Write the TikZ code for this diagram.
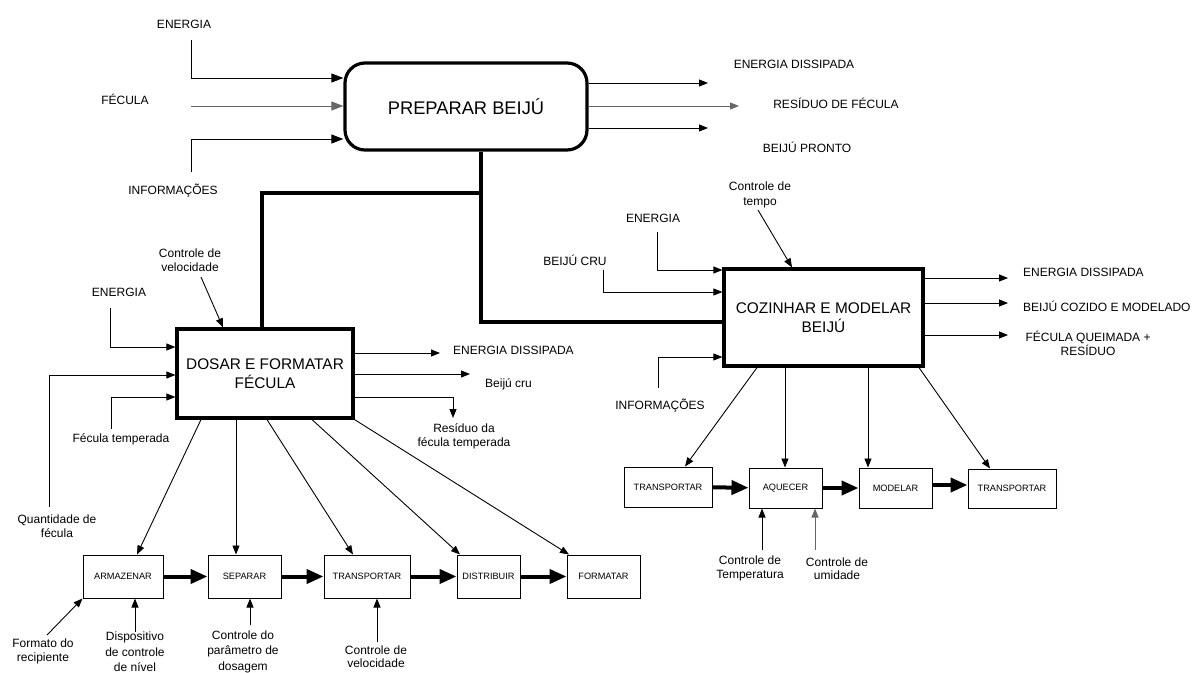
\documentclass[tikz,border=0pt]{standalone}
\usepackage{fontspec}
\setmainfont{Liberation Sans}
\usetikzlibrary{arrows.meta}

\begin{document}
\begin{tikzpicture}[x=1pt,y=-1pt,
  lbl/.style={font=\fontsize{12}{14}\selectfont, align=center, inner sep=0pt},
  boxtext/.style={font=\fontsize{15.4}{19}\selectfont, align=center, inner sep=0pt},
  mainbox/.style={draw, line width=3.2pt, boxtext},
  subbox/.style={draw, line width=1pt, inner sep=0pt, font=\fontsize{9.2}{11}\selectfont},
  arr/.style={line width=0.9pt, -{Triangle[length=9pt,width=7pt]}},
  bigarr/.style={line width=0.9pt, -{Triangle[length=12pt,width=9pt]}},
  greyline/.style={draw=black!60, fill=black!60},
  flow/.style={line width=4pt, -{Triangle[length=17pt,width=14pt]}},
  tie/.style={line width=3.5pt}
]
\useasboundingbox (0,0) rectangle (1196,672);

% ---------- top level activity ----------
\node[mainbox, rounded corners=20pt, minimum width=242pt, minimum height=87pt,
      font=\fontsize{18.3}{22}\selectfont] (prep) at (466,106.5) {PREPARAR BEIJÚ};

\node[lbl] (lpe) at (184,24) {ENERGIA};
\node[lbl] (lpf) at (125,99) {FÉCULA};
\node[lbl] (lpi) at (173,191) {INFORMAÇÕES};
\coordinate (pe) at (191,40);
\coordinate (pf) at (191,106);
\coordinate (pin) at (191,172);
\draw[bigarr] (pe) |- (prep.west |- 0,78);
\draw[bigarr, greyline] (pf) -- (prep.west |- pf);
\draw[bigarr] (pin) |- (prep.west |- 0,139);

\coordinate (po1) at (708,83);
\coordinate (po2) at (739,106);
\coordinate (po3) at (708,128);
\draw[arr] (prep.east |- po1) -- (po1);
\draw[arr, greyline] (prep.east |- po2) -- (po2);
\draw[arr] (prep.east |- po3) -- (po3);
\node[lbl] (lpo1) at (794,64) {ENERGIA DISSIPADA};
\node[lbl] (lpo2) at (836,103) {RESÍDUO DE FÉCULA};
\node[lbl] (lpo3) at (807,147) {BEIJÚ PRONTO};

% ---------- decomposition boxes ----------
\node[mainbox, minimum width=176pt, minimum height=89pt] (dosar) at (265,373.5)
  {DOSAR E FORMATAR\\FÉCULA};
\node[mainbox, minimum width=199pt, minimum height=97pt] (coz) at (823.5,317.5)
  {COZINHAR E MODELAR\\BEIJÚ};

\coordinate (tj) at (481,193);
\draw[tie] (prep.south -| tj) -- (tj) -| (dosar.north -| 262,0);
\draw[tie] (tj) |- (coz.west |- 0,322);

% ---------- DOSAR E FORMATAR FÉCULA ----------
\node[lbl] (lde) at (119,292) {ENERGIA};
\node[lbl] (ldv) at (190,260) {Controle de\\velocidade};
\node[lbl] (ldq) at (57,526.5) {Quantidade de\\fécula};
\node[lbl] (ldt) at (121,439) {Fécula temperada};
\coordinate (de) at (110,308);
\coordinate (dv) at (201,277);
\coordinate (dq) at (49,507);
\coordinate (dt) at (111,429);
\draw[arr] (de) |- (dosar.west |- 0,347);
\draw[arr] (dq) |- (dosar.west |- 0,375);
\draw[arr] (dt) |- (dosar.west |- 0,397);
\draw[arr] (dv) -- (dosar.north -| 223,0);

\coordinate (do1) at (440,353);
\coordinate (do2) at (470,374);
\coordinate (do3) at (453,418);
\draw[arr] (dosar.east |- do1) -- (do1);
\draw[arr] (dosar.east |- do2) -- (do2);
\draw[arr] (dosar.east |- 0,397) -| (do3);
\node[lbl, anchor=west] (ldo1) at (453,350) {ENERGIA DISSIPADA};
\node[lbl, anchor=west] (ldo2) at (485,384) {Beijú cru};
\node[lbl] (ldo3) at (464,436) {Resíduo da\\fécula temperada};

\node[subbox, minimum width=80pt, minimum height=43pt] (arm) at (123,576.5) {ARMAZENAR};
\node[subbox, minimum width=73pt, minimum height=43pt] (sep) at (244.5,576.5) {SEPARAR};
\node[subbox, minimum width=86pt, minimum height=43pt] (tra) at (367,576.5) {TRANSPORTAR};
\node[subbox, minimum width=63pt, minimum height=43pt] (dis) at (488.5,576.5) {DISTRIBUIR};
\node[subbox, minimum width=73pt, minimum height=43pt] (fmt) at (603.5,576.5) {FORMATAR};

\draw[flow] (arm) -- (sep);
\draw[flow] (sep) -- (tra);
\draw[flow] (tra) -- (dis);
\draw[flow] (dis) -- (fmt);

\draw[arr] (dosar.south -| 201,0) -- (arm.north -| 137,0);
\draw[arr] (dosar.south -| 236,0) -- (sep.north -| 236,0);
\draw[arr] (dosar.south -| 267,0) -- (tra.north -| 353,0);
\draw[arr] (dosar.south -| 312,0) -- (dis.north -| 460,0);
\draw[arr] (dosar.south east) -- (fmt.north -| 569,0);

\node[lbl] (lbf) at (43,651) {Formato do\\recipiente};
\node[lbl, font=\fontsize{12}{15.5}\selectfont] (lbd) at (135,652) {Dispositivo\\de controle\\de nível};
\node[lbl, font=\fontsize{12}{15.5}\selectfont] (lbp) at (243,651.5) {Controle do\\parâmetro de\\dosagem};
\node[lbl, font=\fontsize{12}{13.5}\selectfont] (lbv) at (376,656.5) {Controle de\\velocidade};
\coordinate (bf) at (47,635);
\coordinate (bd) at (135,632);
\coordinate (bp) at (250,625);
\coordinate (bv) at (377,642);
\draw[arr] (bf) -- (arm.south west);
\draw[arr] (bd) -- (arm.south -| bd);
\draw[arr] (bp) -- (sep.south -| bp);
\draw[arr] (bv) -- (tra.south -| bv);

% ---------- COZINHAR E MODELAR BEIJÚ ----------
\node[lbl, font=\fontsize{12}{15}\selectfont] (lct) at (760,194.5) {Controle de\\tempo};
\node[lbl] (lce) at (653,218) {ENERGIA};
\node[lbl] (lcb) at (575,260) {BEIJÚ CRU};
\node[lbl] (lci) at (660,405) {INFORMAÇÕES};
\coordinate (ct) at (758,210);
\coordinate (ce) at (657,232);
\coordinate (cb) at (603,270);
\coordinate (ci) at (658,388);
\draw[arr] (ct) -- (coz.north -| 792,0);
\draw[arr] (ce) |- (coz.west |- 0,270);
\draw[arr] (cb) |- (coz.west |- 0,292);
\draw[arr] (ci) |- (coz.west |- 0,357);

\coordinate (co1) at (1008,278);
\coordinate (co2) at (1008,303);
\coordinate (co3) at (1008,335);
\draw[arr] (coz.east |- co1) -- (co1);
\draw[arr] (coz.east |- co2) -- (co2);
\draw[arr] (coz.east |- co3) -- (co3);
\node[lbl, anchor=west] (lco1) at (1023,272) {ENERGIA DISSIPADA};
\node[lbl, anchor=west] (lco2) at (1023,306) {BEIJÚ COZIDO E MODELADO};
\node[lbl] (lco3) at (1088,343) {FÉCULA QUEIMADA +\\RESÍDUO};

\node[subbox, minimum width=88pt, minimum height=40pt] (tr1) at (668,487) {TRANSPORTAR};
\node[subbox, minimum width=73pt, minimum height=40pt] (aq) at (785.5,488) {AQUECER};
\node[subbox, minimum width=73pt, minimum height=40pt] (mod) at (895.5,488) {MODELAR};
\node[subbox, minimum width=88pt, minimum height=39pt] (tr2) at (1012,488.5) {TRANSPORTAR};

\draw[flow] (tr1) -- (aq);
\draw[flow] (aq) -- (mod);
\draw[flow] (mod.east |- 0,485) -- (tr2.west |- 0,485);

\draw[arr] (coz.south -| 757,0) -- (tr1.north -| 685,0);
\draw[arr] (coz.south -| 785,0) -- (aq.north -| 785,0);
\draw[arr] (coz.south -| 868,0) -- (mod.north -| 868,0);
\draw[arr] (coz.south -| 919,0) -- (tr2.north -| 990,0);

\node[lbl, font=\fontsize{12}{13.5}\selectfont] (lat) at (750,568.5) {Controle de\\Temperatura};
\node[lbl, font=\fontsize{12}{13.5}\selectfont] (lau) at (837,568.5) {Controle de\\umidade};
\coordinate (at) at (762,550);
\coordinate (au) at (815,550);
\draw[arr] (at) -- (aq.south -| at);
\draw[arr, greyline] (au) -- (aq.south -| au);

\end{tikzpicture}
\end{document}
